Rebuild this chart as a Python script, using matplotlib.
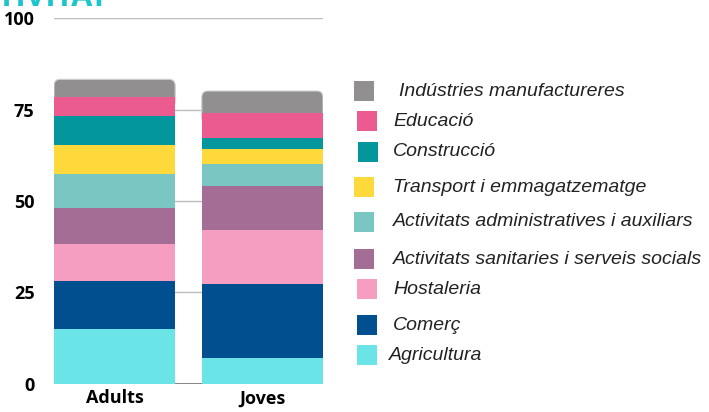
import numpy as np
import matplotlib.pyplot as plt
from matplotlib import font_manager
from matplotlib.patches import FancyBboxPatch, Rectangle

groups = ['Adults', 'Joves']
sectors = ['Agricultura', 'Comerç', 'Hostaleria',
           'Activitats sanitaries i serveis socials',
           'Activitats administratives i auxiliars',
           'Transport i emmagatzematge', 'Construcció', 'Educació',
           'Indústries manufactureres']
adults = [15.0, 13.1, 10.0, 10.1, 9.1, 8.0, 8.0, 5.2, 4.8]
joves = [7.0, 20.2, 14.9, 12.1, 6.0, 4.0, 3.0, 6.9, 6.0]
colors = ['#6ae4e7', '#024f90', '#f59ec1', '#a46d95', '#7ac6c3',
          '#fed93b', '#03979d', '#eb5b8f', '#918f90']
yticks = [0, 25, 50, 75, 100]


def bold_font_file():
    # find a real bold face (some installed families are variable fonts)
    for fam in ['Open Sans', 'Noto Sans', 'Lato', 'Roboto', 'Inter', 'DejaVu Sans']:
        for f in font_manager.fontManager.ttflist:
            if f.name == fam and f.style == 'normal' and f.weight in (700, 'bold'):
                return f.fname
    return None


bold_path = bold_font_file()
if bold_path:
    bold_fp = font_manager.FontProperties(fname=bold_path, size=13)
else:
    bold_fp = font_manager.FontProperties(family='DejaVu Sans', weight='bold', size=12)

W, H = 709, 412
fig = plt.figure(figsize=(W / 100, H / 100), dpi=100)
ax = fig.add_axes([54 / W, 1 - 383.7 / H, 269 / W, 365.4 / H])

values = np.array([adults, joves])
x = np.arange(len(groups))
width = 0.82
bottom = np.zeros(len(groups))
for i, (name, col) in enumerate(zip(sectors, colors)):
    seg = values[:, i]
    if i == len(sectors) - 1:
        # top segment with rounded corners
        for xi, b, h in zip(x, bottom, seg):
            patch = FancyBboxPatch((xi - width / 2, b - 3), width, h + 3,
                                   boxstyle='round,pad=0,rounding_size=0.04',
                                   mutation_aspect=45, facecolor=col,
                                   edgecolor='#cfcfcf', linewidth=0.8, zorder=2)
            ax.add_patch(patch)
    else:
        ax.bar(x, seg, width, bottom=bottom, color=col, zorder=3, linewidth=0)
    bottom += seg

ax.set_xlim(-width / 2, 1 + width / 2)
ax.set_ylim(0, 100)
for t in yticks[1:]:
    ax.axhline(t, color='#bdbdbd', lw=1, zorder=1)
ax.axhline(0, color='#707070', lw=1.2, zorder=1)
for s in ax.spines.values():
    s.set_visible(False)
ax.set_yticks(yticks)
ax.set_yticklabels([str(t) for t in yticks], fontproperties=bold_fp)
ax.set_xticks(x)
ax.set_xticklabels(groups, fontproperties=bold_fp)
ax.tick_params(length=0)
ax.tick_params(axis='y', pad=14)
ax.tick_params(axis='x', pad=4)

# cut-off title at the very top
title_fp = bold_fp.copy()
title_fp.set_size(22)
fig.text(108 / W, 1 - 6 / H, 'ACTIVITAT', color='#1cc4cc', fontproperties=title_fp,
         ha='right', va='baseline')

# legend (top to bottom), positions in pixels: square left, centre y, text left
leg_pos = [(354, 91, 399), (357, 121, 393), (358, 152, 393), (354, 187, 393),
           (354, 222, 393), (354, 259, 393), (357, 289, 393), (357, 325, 393),
           (357, 355, 389)]
for (sx, cy, tx), name, col in zip(leg_pos, sectors[::-1], colors[::-1]):
    fig.patches.append(Rectangle((sx / W, 1 - (cy + 10) / H), 20 / W, 20 / H,
                                 transform=fig.transFigure, facecolor=col,
                                 edgecolor='none'))
    fig.text(tx / W, 1 - cy / H, name, fontfamily='Liberation Sans',
             style='italic', fontsize=14, color='#222222', va='center')

fig.savefig('out.png', dpi=100)
